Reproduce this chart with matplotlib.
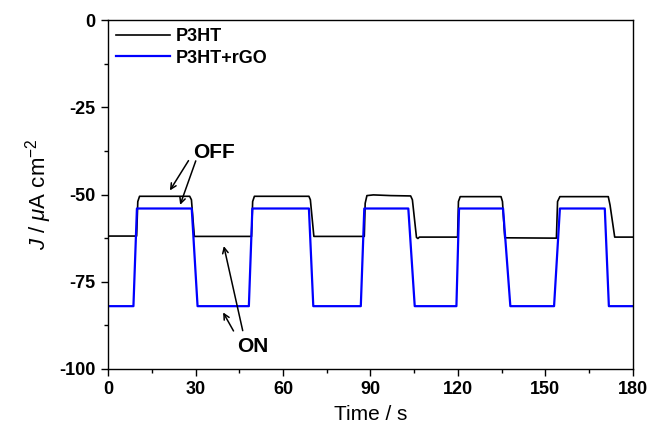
import matplotlib
matplotlib.use('Agg')
import matplotlib.pyplot as plt
from matplotlib.ticker import MultipleLocator

plt.rcParams.update({
    'font.family': 'Liberation Sans',
    'axes.unicode_minus': False,
    'mathtext.fontset': 'custom',
    'mathtext.rm': 'Liberation Sans',
    'mathtext.it': 'Liberation Sans:italic',
    'mathtext.bf': 'Liberation Sans:bold',
})

# data (vertices of the traces)
t_p3ht = [0, 9.8, 10.2, 10.8, 28.0, 28.6, 29.6,
          49.2, 49.6, 50.2, 68.9, 69.4, 70.6,
          87.9, 88.2, 88.8, 91.0, 97.0, 103.8, 104.4, 105.8, 106.3, 106.8,
          119.9, 120.2, 120.8, 134.8, 135.3, 136.1,
          153.8, 154.2, 155.0, 171.6, 172.2, 173.8, 180]
j_p3ht = [-61.9, -61.9, -52.0, -50.5, -50.5, -51.5, -62.0,
          -62.0, -52.0, -50.5, -50.5, -51.5, -62.0,
          -62.0, -52.5, -50.3, -50.1, -50.3, -50.4, -51.5, -62.3, -62.6, -62.2,
          -62.2, -52.0, -50.6, -50.6, -52.0, -62.4,
          -62.5, -52.0, -50.6, -50.6, -53.0, -62.2, -62.2]

t_rgo = [0, 8.7, 9.9, 28.7, 30.7, 48.3, 49.5, 68.9, 70.4, 86.7, 87.9,
         103.0, 105.2, 119.5, 120.4, 135.5, 138.0, 153.0, 155.0, 170.4, 171.8, 180]
j_rgo = [-82, -82, -54, -54, -82, -82, -54, -54, -82, -82, -54,
         -54, -82, -82, -54, -54, -82, -82, -54, -54, -82, -82]

fig = plt.figure(figsize=(6.51, 4.29), dpi=100)
ax = fig.add_axes([0.166, 0.140, 0.806, 0.813])

ax.plot(t_p3ht, j_p3ht, color='black', lw=1.2, label='P3HT')
ax.plot(t_rgo, j_rgo, color='#0000ff', lw=1.6, label='P3HT+rGO')

ax.set_xlim(0, 180)
ax.set_ylim(-100, 0)
ax.xaxis.set_major_locator(MultipleLocator(30))
ax.xaxis.set_minor_locator(MultipleLocator(15))
ax.yaxis.set_major_locator(MultipleLocator(25))
ax.yaxis.set_minor_locator(MultipleLocator(12.5))
ax.tick_params(which='both', direction='out', top=False, right=False, width=1.0)
ax.tick_params(which='major', length=5, labelsize=13, pad=4)
ax.tick_params(which='minor', length=3)
for lbl in ax.get_xticklabels() + ax.get_yticklabels():
    lbl.set_fontweight('bold')
for sp in ax.spines.values():
    sp.set_linewidth(1.0)

ax.set_xlabel('Time / s', fontsize=15, labelpad=5)
ax.set_ylabel(r'$J$ / $\mu$A cm$^{-2}$', fontsize=16, labelpad=4)

ax.legend(loc='upper left', frameon=False, prop={'size': 13, 'weight': 'bold'},
          handlelength=3.0, borderaxespad=0.15, borderpad=0.3,
          handletextpad=0.3, labelspacing=0.25)

arrow = dict(arrowstyle='->', color='black', lw=1.1)
ax.text(36.3, -37.8, 'OFF', fontsize=15, fontweight='bold', ha='center', va='center')
ax.annotate('', xy=(20.7, -49.5), xytext=(28.1, -39.6), arrowprops=arrow)
ax.annotate('', xy=(24.4, -53.7), xytext=(30.4, -39.6), arrowprops=arrow)
ax.text(49.7, -93.7, 'ON', fontsize=15, fontweight='bold', ha='center', va='center')
ax.annotate('', xy=(39.5, -64.0), xytext=(46.4, -89.8), arrowprops=arrow)
ax.annotate('', xy=(39.0, -83.1), xytext=(43.5, -89.8), arrowprops=arrow)

fig.savefig('out.png', dpi=100)
